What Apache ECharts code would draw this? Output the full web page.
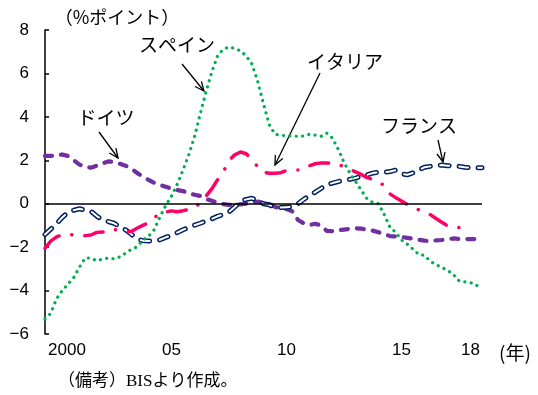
<!DOCTYPE html>
<html>
<head>
<meta charset="utf-8">
<script src="https://cdn.jsdelivr.net/npm/echarts@6/dist/echarts.min.js"></script>
<style>
    html, body { margin: 0; background: #fff; }
    #chart { width: 538px; height: 395px; }
</style>
</head>
<body>
<div id="chart"></div>
<script>
// quarterly data, 1999Q3 .. 2018Q3
const quarters = [];
for (let y = 1999; y <= 2018; y++) {
    for (let q = 1; q <= 4; q++) {
        if ((y === 1999 && q < 3) || (y === 2018 && q > 3)) continue;
        quarters.push(y + 'Q' + q);
    }
}
const tickQuarters = ['2000Q1', '2005Q1', '2010Q1', '2015Q1', '2018Q1'];
const tickLabels = ['2000', '05', '10', '15', '18'];

const spain = [
    -5.3, -5.05, -4.38, -4.0, -3.7, -3.4, -2.92, -2.5, -2.5, -2.63,
    -2.55, -2.5, -2.54, -2.45, -2.28, -2.1, -1.99, -1.68, -1.5, -1.2,
    -0.6, -0.08, 0.35, 0.9, 1.55, 2.25, 3.08, 4.14, 5.15, 6.06,
    6.8, 7.12, 7.21, 7.15, 7.04, 6.8, 6.43, 5.62, 4.6, 3.64,
    3.2, 3.15, 3.13, 3.12, 3.1, 3.12, 3.2, 3.16, 3.1, 3.25,
    3.02, 2.5, 1.9, 1.42, 1.03, 0.62, 0.23, 0.06, 0.0, -0.5,
    -1.09, -1.32, -1.67, -1.86, -2.09, -2.33, -2.38, -2.65, -2.8, -2.94,
    -3.06, -3.26, -3.55, -3.6, -3.63, -3.76, -3.85
];
const germany = [
    2.2, 2.2, 2.21, 2.27, 2.2, 2.0, 1.8, 1.7, 1.66, 1.75,
    1.85, 1.95, 1.92, 1.84, 1.75, 1.62, 1.42, 1.25, 1.1, 0.96,
    0.86, 0.78, 0.69, 0.63, 0.58, 0.5, 0.41, 0.36, 0.22, 0.14,
    0.05, -0.02, -0.05, -0.05, -0.03, 0.0, 0.05, 0.1, 0.03, -0.01,
    -0.15, -0.2, -0.25, -0.35, -0.75, -0.9, -0.98, -0.92, -1.0, -1.25,
    -1.26, -1.22, -1.19, -1.16, -1.13, -1.15, -1.2, -1.24, -1.31, -1.4,
    -1.49, -1.51, -1.53, -1.57, -1.61, -1.66, -1.7, -1.72, -1.69, -1.67,
    -1.64, -1.6, -1.62, -1.63, -1.63, -1.63, -1.63
];
const france = [
    -1.42, -1.17, -0.93, -0.63, -0.4, -0.3, -0.23, -0.3, -0.35, -0.57,
    -0.74, -0.82, -0.9, -1.05, -1.2, -1.4, -1.62, -1.7, -1.72, -1.71,
    -1.66, -1.55, -1.45, -1.33, -1.2, -1.1, -0.99, -0.9, -0.8, -0.7,
    -0.58, -0.5, -0.38, -0.15, 0.1, 0.2, 0.25, 0.12, 0.0, -0.05,
    -0.18, -0.17, -0.16, -0.15, 0.0, 0.2, 0.38, 0.53, 0.7, 0.87,
    0.95, 1.02, 1.08, 1.12, 1.18, 1.26, 1.33, 1.41, 1.45, 1.45,
    1.48, 1.55, 1.38, 1.33, 1.42, 1.55, 1.68, 1.72, 1.76, 1.78,
    1.75, 1.74, 1.72, 1.68, 1.66, 1.66, 1.66
];
const italy = [
    -2.05, -1.72, -1.53, -1.43, -1.4, -1.45, -1.49, -1.47, -1.44, -1.32,
    -1.3, -1.3, -1.18, -1.25, -1.29, -1.28, -1.13, -1.0, -0.88, -0.65,
    -0.42, -0.38, -0.33, -0.37, -0.32, -0.26, -0.2, 0.05, 0.35, 0.68,
    1.1, 1.45, 2.0, 2.25, 2.38, 2.3, 2.02, 1.7, 1.45, 1.4,
    1.4, 1.43, 1.53, 1.55, 1.55, 1.6, 1.75, 1.84, 1.88, 1.88,
    1.86, 1.82, 1.7, 1.58, 1.47, 1.35, 1.2, 1.12, 0.98, 0.85,
    0.45, 0.28, 0.12, -0.03, -0.15, -0.28, -0.4, -0.5, -0.68, -0.85,
    -1.02, -1.08, -1.1, -1.15, -1.28, null, null
];

const cjkFont = '"Noto Sans CJK JP", sans-serif';
const numFont = '"Liberation Sans", Arial, sans-serif';

// open V arrow head, pixel annotation
function arrow(x1, y1, x2, y2) {
    const a = Math.atan2(y2 - y1, x2 - x1);
    const L = 10, w = 0.42;
    return {
        type: 'group',
        children: [
            { type: 'line', shape: { x1: x1, y1: y1, x2: x2, y2: y2 }, style: { stroke: '#000', lineWidth: 1.3 } },
            {
                type: 'polyline',
                shape: {
                    points: [
                        [x2 - L * Math.cos(a - w), y2 - L * Math.sin(a - w)],
                        [x2, y2],
                        [x2 - L * Math.cos(a + w), y2 - L * Math.sin(a + w)]
                    ]
                },
                style: { stroke: '#000', lineWidth: 1.3, fill: null }
            }
        ]
    };
}
function label(text, x, y, size) {
    return {
        type: 'text', x: x, y: y,
        style: { text: text, font: (size || 18) + 'px ' + cjkFont, fill: '#000', align: 'center', verticalAlign: 'middle' }
    };
}

let chart = echarts.init(document.getElementById('chart'));

let option = {
    animation: false,
    backgroundColor: '#fff',
    grid: { left: 45, right: 56, top: 30, bottom: 61 },
    xAxis: {
        type: 'category',
        data: quarters,
        boundaryGap: false,
        axisLine: { show: false },
        axisTick: { show: false },
        axisLabel: {
            interval: (idx, val) => tickQuarters.includes(val),
            margin: 8,
            color: '#000',
            fontFamily: numFont,
            fontSize: 17,
            formatter: (val) => {
                const t = tickLabels[tickQuarters.indexOf(val)];
                return val === '2000Q1' ? '{first|' + t + '}' : t;
            },
            rich: {
                first: { padding: [0, 0, 0, 21], fontFamily: numFont, fontSize: 17, color: '#000' }
            }
        },
        splitLine: { show: false }
    },
    yAxis: {
        type: 'value',
        min: -6,
        max: 8,
        interval: 2,
        axisLine: { show: true, lineStyle: { color: '#000', width: 1.5 } },
        axisTick: { show: true, inside: true, length: 4, lineStyle: { color: '#000', width: 1.5 } },
        axisLabel: {
            margin: 16,
            color: '#000',
            fontFamily: numFont,
            fontSize: 17,
            formatter: (v) => String(v).replace('-', '\u2212')
        },
        splitLine: { show: false }
    },
    series: [
        {
            name: 'ドイツ',
            type: 'line',
            data: germany,
            symbol: 'none',
            lineStyle: { color: '#7030A0', width: 4.2, type: [7, 9], cap: 'round' },
            markLine: {
                silent: true,
                symbol: 'none',
                label: { show: false },
                lineStyle: { color: '#000', width: 1.5, type: 'solid' },
                data: [{ yAxis: 0 }]
            }
        },
        {
            name: 'フランス',
            type: 'line',
            data: france,
            symbol: 'none',
            lineStyle: { color: '#002060', width: 5, type: [9, 10], cap: 'round' }
        },
        {
            name: 'フランス_inner',
            type: 'line',
            data: france,
            symbol: 'none',
            lineStyle: { color: '#ffffff', width: 2, type: [9, 10], cap: 'round' }
        },
        {
            name: 'イタリア',
            type: 'line',
            data: italy,
            symbol: 'none',
            connectNulls: false,
            lineStyle: { color: '#FF0066', width: 3.5, type: [19, 13, 0.1, 13], cap: 'round' }
        },
        {
            name: 'スペイン',
            type: 'line',
            data: spain,
            symbol: 'none',
            lineStyle: { color: '#00B050', width: 3.2, type: [0.1, 6.3], cap: 'round' }
        }
    ],
    graphic: [
        label('（%ポイント）', 117, 17, 18),
        label('スペイン', 177, 45, 19),
        arrow(182, 64, 204, 91),
        label('ドイツ', 106, 118, 19),
        arrow(99, 132, 118, 158),
        label('イタリア', 345, 62, 19),
        arrow(320, 73, 275, 165),
        label('フランス', 419, 126, 19),
        arrow(438, 140, 443, 162),
        label('(年)', 515, 353, 19),
        {
            type: 'text', x: 58, y: 382,
            style: {
                text: '（備考）BISより作成。',
                font: '17px "Liberation Serif", "Noto Sans CJK JP", serif',
                fill: '#000', align: 'left', verticalAlign: 'middle'
            }
        }
    ]
};

chart.setOption(option);

window.addEventListener('resize', () => {
    chart.resize();
});
</script>
</body>
</html>
